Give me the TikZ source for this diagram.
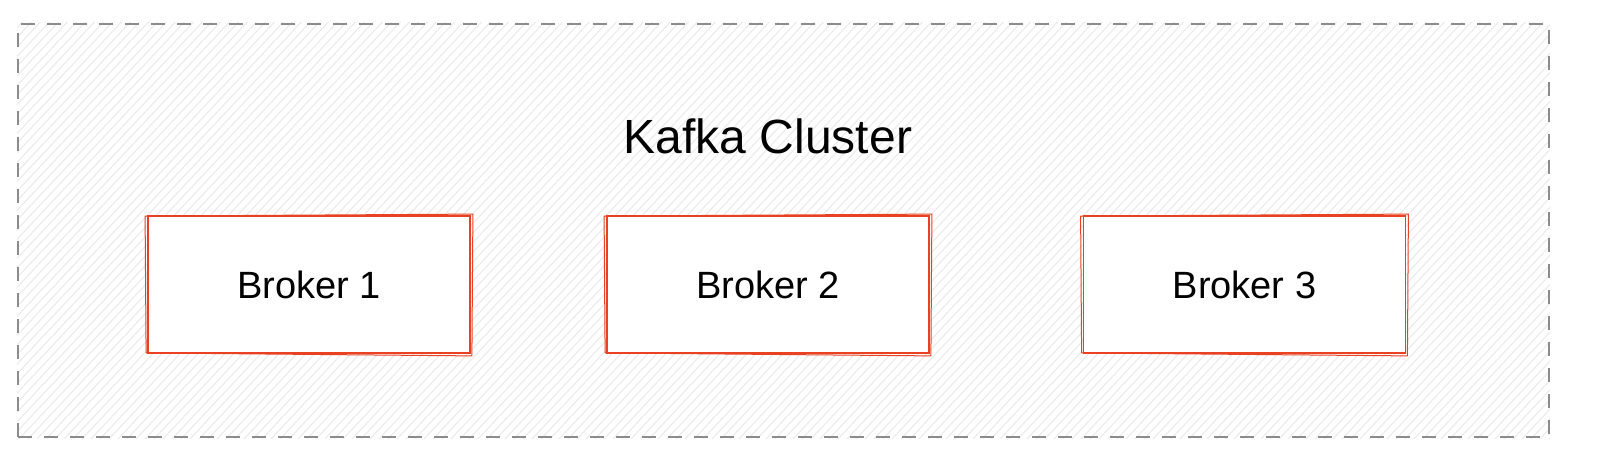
\documentclass[tikz,border=0pt]{standalone}
\usepackage{fontspec}
\setmainfont{Liberation Sans}
\usepackage{tikz}

\definecolor{brokerred}{RGB}{232,66,34}
\definecolor{dashgray}{RGB}{140,140,140}
\definecolor{hatchgray}{RGB}{236,236,236}

\tikzset{
  clusterbox/.style={draw=dashgray, line width=1pt, dash pattern=on 7pt off 6pt, minimum width=765.5pt, minimum height=206.5pt, inner sep=0pt},
  brokerbox/.style={draw=brokerred, fill=white, line width=0.9pt, minimum width=161pt, minimum height=68.5pt, inner sep=0pt, font=\fontsize{19}{23}\selectfont},
  roughline/.style={draw=brokerred, line width=0.5pt, line join=round}
}

\begin{document}
\begin{tikzpicture}[x=0.5pt,y=0.5pt,yscale=-1,xscale=1]

%Shape: Rectangle [cluster]
\node [clusterbox] (cluster) at (783.5,230.5) {};
%Hatching
\begin{scope}
\clip (cluster.north west) rectangle (cluster.south east);
\foreach \hx in {-460,-451,...,1600}
  \draw [hatchgray, line width=0.6pt] (\hx,470) -- (\hx+440,0);
\end{scope}
\node [clusterbox] at (cluster.center) {};

% Text Node
\node [font=\fontsize{24}{29}\selectfont] (title) at (768,136) {Kafka Cluster};

%Shape: Rectangle [brokers]
\node [brokerbox] (b1) at (309,284.5) {Broker 1};
\node [brokerbox] (b2) at (768,284.5) {Broker 2};
\node [brokerbox] (b3) at (1244.5,284.5) {Broker 3};
%second sketchy stroke
\foreach \b in {b1,b2,b3}
  \draw [roughline] ([shift={(-2,1)}]\b.north west) -- ([shift={(2,-1)}]\b.north east) -- ([shift={(1,2)}]\b.south east) -- ([shift={(-1,-1)}]\b.south west) -- cycle;

\pgfresetboundingbox
\useasboundingbox (0,0) rectangle (1600,470);
\end{tikzpicture}
\end{document}
